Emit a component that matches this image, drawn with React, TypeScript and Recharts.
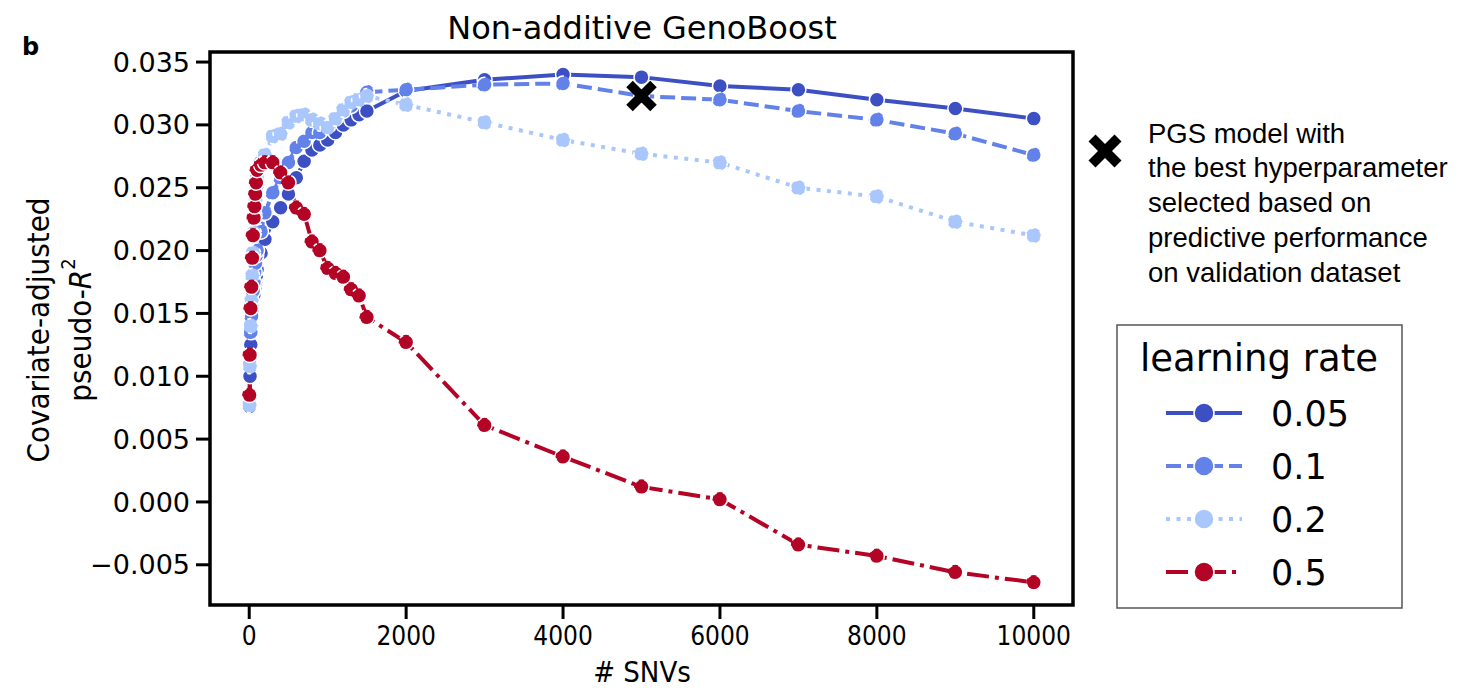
import {
  ComposedChart, Line, XAxis, YAxis, ReferenceArea, ReferenceDot, Customized,
} from 'recharts';

const SNVS = [5, 10, 20, 30, 40, 50, 60, 70, 80, 90, 100, 150, 200, 300, 400, 500, 600, 700, 800, 900, 1000, 1100, 1200, 1300, 1400, 1500, 2000, 3000, 4000, 5000, 6000, 7000, 8000, 9000, 10000];

const LR_005 = [0.0076, 0.0100, 0.0125, 0.0140, 0.0150, 0.0158, 0.0165, 0.0170, 0.0175, 0.0180, 0.0185, 0.0198, 0.0209, 0.0223, 0.0234, 0.0245, 0.0258, 0.0271, 0.0280, 0.0284, 0.0288, 0.0294, 0.0300, 0.0304, 0.0308, 0.0311, 0.0327, 0.0336, 0.0340, 0.0338, 0.0331, 0.0328, 0.0320, 0.0313, 0.0305];
const LR_01 = [0.0078, 0.0110, 0.0135, 0.0148, 0.0158, 0.0168, 0.0175, 0.0183, 0.0190, 0.0196, 0.0200, 0.0215, 0.0230, 0.0246, 0.0258, 0.0270, 0.0282, 0.0287, 0.0294, 0.0294, 0.0299, 0.0305, 0.0311, 0.0315, 0.0321, 0.0326, 0.0328, 0.0332, 0.0333, 0.0323, 0.0320, 0.0311, 0.0304, 0.0293, 0.0276];
const LR_02 = [0.0077, 0.0108, 0.0140, 0.0160, 0.0180, 0.0198, 0.0214, 0.0228, 0.0240, 0.0250, 0.0258, 0.0270, 0.0276, 0.0291, 0.0293, 0.0302, 0.0307, 0.0308, 0.0304, 0.0301, 0.0298, 0.0305, 0.0312, 0.0318, 0.0320, 0.0323, 0.0316, 0.0302, 0.0288, 0.0277, 0.0270, 0.0250, 0.0243, 0.0223, 0.0212];
const LR_05 = [0.0085, 0.0117, 0.0154, 0.0171, 0.0194, 0.0212, 0.0226, 0.0235, 0.0245, 0.0254, 0.0264, 0.0268, 0.0270, 0.0270, 0.0262, 0.0254, 0.0234, 0.0229, 0.0207, 0.0200, 0.0186, 0.0182, 0.0179, 0.0169, 0.0164, 0.0147, 0.0127, 0.0061, 0.0036, 0.0012, 0.0002, -0.0034, -0.0043, -0.0056, -0.0064];

const LR_LABELS = ['0.05', '0.1', '0.2', '0.5'];
const X_TICKS = [0, 2000, 4000, 6000, 8000, 10000];
const Y_TICKS = [-0.005, 0, 0.005, 0.01, 0.015, 0.02, 0.025, 0.03, 0.035];
const BEST = { x: 5000, y: 0.0323 };
const NOTE_LINES = ['PGS model with', 'the best hyperparameter', 'selected based on', 'predictive performance', 'on validation dataset'];

const COLORS = ['#3d50c3', '#6282ea', '#aac7fd', '#b40426'];
const DASHES = ['0', '15 6', '4 6.5', '22 6 4 6'];

const X_DOMAIN = [-500, 10500];
const Y_DOMAIN = [-0.0082, 0.0358];

const SERIES = [LR_005, LR_01, LR_02, LR_05].map((vals, i) => ({
  name: LR_LABELS[i],
  color: COLORS[i],
  dash: DASHES[i],
  data: SNVS.map((x, j) => ({ x, y: vals[j] })),
}));

const SANS = '"DejaVu Sans", sans-serif';
const COND = '"DejaVu Sans Condensed", "DejaVu Sans", sans-serif';

function fmtY(v: number) {
  const s = Math.abs(v).toFixed(3);
  return v < 0 ? '\u2212' + s : s;
}

// thick "X" marker like matplotlib's 'X'
function Cross({ cx, cy, size }: { cx: number; cy: number; size: number }) {
  const h = size / 2;
  return (
    <g>
      <line x1={cx - h} y1={cy - h} x2={cx + h} y2={cy + h} stroke="#000" strokeWidth={size * 0.38} />
      <line x1={cx - h} y1={cy + h} x2={cx + h} y2={cy - h} stroke="#000" strokeWidth={size * 0.38} />
    </g>
  );
}

function Titles() {
  return (
    <g>
      <text x={642} y={28} textAnchor="middle" dominantBaseline="central" fontSize={32} fontFamily={SANS}>
        Non-additive GenoBoost
      </text>
      <text x={22} y={47} dominantBaseline="central" fontSize={24} fontWeight="bold" fontFamily={SANS}>b</text>
      <text x={642} y={672} textAnchor="middle" dominantBaseline="central" fontSize={29} fontFamily={COND}># SNVs</text>
      <g transform="translate(38 330) rotate(-90)">
        <text x={0} y={0} textAnchor="middle" dominantBaseline="central" fontSize={31} fontFamily={COND}>
          Covariate-adjusted
        </text>
      </g>
      <g transform="translate(80 330) rotate(-90)">
        <text x={0} y={0} textAnchor="middle" dominantBaseline="central" fontSize={31} fontFamily={COND}>
          pseudo-<tspan fontStyle="italic">R</tspan>
          <tspan dy={-12} fontSize={20}>2</tspan>
        </text>
      </g>
    </g>
  );
}

function Side() {
  return (
    <svg width={390} height={600} style={{ position: 'absolute', left: 1080, top: 90 }}>
      <Cross cx={25} cy={61} size={26} />
      {NOTE_LINES.map((t, i) => (
        <text key={t} x={68} y={43 + i * 34.8} dominantBaseline="central" fontSize={27.5}
          fontFamily='"Liberation Sans", Arial, sans-serif'>{t}</text>
      ))}
      <rect x={37} y={235} width={285} height={283} fill="#fff" stroke="#555" strokeWidth={1.5} />
      <text x={179} y={268} textAnchor="middle" dominantBaseline="central" fontSize={37} fontFamily={SANS}>
        learning rate
      </text>
      {SERIES.map((s, i) => {
        const y = 323 + i * 53;
        return (
          <g key={s.name}>
            <line x1={86} x2={162} y1={y} y2={y} stroke={s.color} strokeWidth={4}
              strokeDasharray={s.dash === '0' ? undefined : s.dash} />
            <circle cx={124} cy={y} r={10} fill={s.color} stroke="#fff" strokeWidth={1.5} />
            <text x={191} y={y + 1} dominantBaseline="central" fontSize={35} fontFamily={SANS}>{s.name}</text>
          </g>
        );
      })}
    </svg>
  );
}

export default function App() {
  return (
    <div style={{ position: 'absolute', left: 0, top: 0, width: 1470, height: 690, background: '#fff' }}>
      <ComposedChart width={1470} height={690} margin={{ top: 52, left: 130, right: 397, bottom: 25 }}>
        <XAxis
          type="number" dataKey="x" domain={X_DOMAIN} ticks={X_TICKS} allowDataOverflow
          height={60} tickSize={14} tickMargin={8}
          axisLine={false} tickLine={{ stroke: '#000', strokeWidth: 3 }}
          tick={{ fontSize: 26, fill: '#000', fontFamily: COND }}
        />
        <YAxis
          type="number" dataKey="y" domain={Y_DOMAIN} ticks={Y_TICKS} allowDataOverflow
          width={80} tickSize={14} tickMargin={6} tickFormatter={fmtY}
          axisLine={false} tickLine={{ stroke: '#000', strokeWidth: 3 }}
          tick={{ fontSize: 27, fill: '#000', fontFamily: SANS }}
        />
        <ReferenceArea x1={X_DOMAIN[0]} x2={X_DOMAIN[1]} y1={Y_DOMAIN[0]} y2={Y_DOMAIN[1]}
          fill="none" fillOpacity={0} stroke="#000" strokeWidth={3.5} ifOverflow="visible" />
        {SERIES.map((s) => (
          <Line
            key={s.name} data={s.data} dataKey="y" type="linear" name={s.name}
            stroke={s.color} strokeWidth={4} strokeDasharray={s.dash === '0' ? undefined : s.dash}
            dot={{ r: 7.5, fill: s.color, stroke: '#fff', strokeWidth: 1.5 }}
            activeDot={false} isAnimationActive={false}
          />
        ))}
        <ReferenceDot x={BEST.x} y={BEST.y} r={14} ifOverflow="visible"
          shape={(p: any) => <Cross cx={p.cx} cy={p.cy} size={24} />} />
        <Customized component={Titles} />
      </ComposedChart>
      <Side />
    </div>
  );
}
